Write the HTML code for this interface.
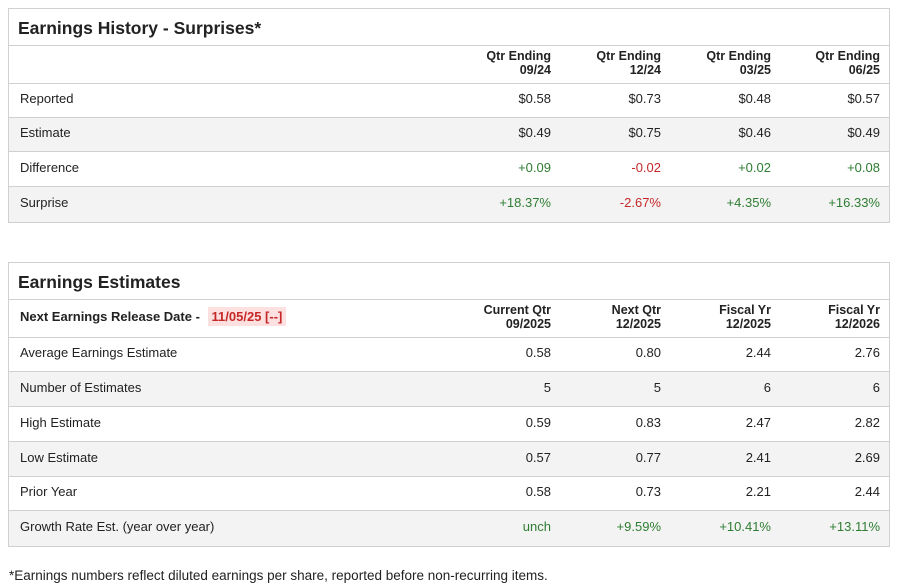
<!DOCTYPE html>
<html><head><meta charset="utf-8"><style>
body{margin:0;width:902px;height:587px;background:#fff;font-family:"Liberation Sans",sans-serif;color:#222;position:relative;overflow:hidden}
.panel{position:absolute;left:8px;width:880px;border:1px solid #d0d0d0;background:#fff}
.title{position:absolute;left:0;right:0;top:0;border-bottom:1px solid #d0d0d0;font-weight:bold;font-size:17.5px;padding-left:9px;box-sizing:border-box}
.row{position:absolute;left:0;right:0;border-bottom:1px solid #d0d0d0;box-sizing:border-box;font-size:13px}
.row>span{top:-2px}
.row.g{background:#f3f3f3}
.lbl{position:absolute;left:11px}
.c{position:absolute;text-align:right;width:110px}
.hd{font-weight:bold;line-height:14px;font-size:12.5px}
.pos{color:#2e7d32}.neg{color:#c62828}
.date{background:#fde0e0;color:#c62828;padding:2px 4px;margin-left:4px}
</style></head><body>
<div class="panel" style="top:8px;height:213px">
 <div class="title" style="height:37px;line-height:38px">Earnings History - Surprises*</div>
 <div class="row hd" style="top:37px;height:38px">
  <div class="c" style="right:338px;top:3px">Qtr Ending<br>09/24</div>
  <div class="c" style="right:228px;top:3px">Qtr Ending<br>12/24</div>
  <div class="c" style="right:118px;top:3px">Qtr Ending<br>03/25</div>
  <div class="c" style="right:9px;top:3px">Qtr Ending<br>06/25</div>
 </div>
 <div class="row" style="top:75px;height:34px;line-height:34px"><span class="lbl">Reported</span>
  <span class="c" style="right:338px">$0.58</span><span class="c" style="right:228px">$0.73</span><span class="c" style="right:118px">$0.48</span><span class="c" style="right:9px">$0.57</span></div>
 <div class="row g" style="top:109px;height:34px;line-height:34px"><span class="lbl">Estimate</span>
  <span class="c" style="right:338px">$0.49</span><span class="c" style="right:228px">$0.75</span><span class="c" style="right:118px">$0.46</span><span class="c" style="right:9px">$0.49</span></div>
 <div class="row" style="top:143px;height:35px;line-height:35px"><span class="lbl">Difference</span>
  <span class="c pos" style="right:338px">+0.09</span><span class="c neg" style="right:228px">-0.02</span><span class="c pos" style="right:118px">+0.02</span><span class="c pos" style="right:9px">+0.08</span></div>
 <div class="row g" style="top:178px;height:35px;line-height:35px;border-bottom:none"><span class="lbl">Surprise</span>
  <span class="c pos" style="right:338px">+18.37%</span><span class="c neg" style="right:228px">-2.67%</span><span class="c pos" style="right:118px">+4.35%</span><span class="c pos" style="right:9px">+16.33%</span></div>
</div>

<div class="panel" style="top:262px;height:283px">
 <div class="title" style="height:37px;line-height:38px">Earnings Estimates</div>
 <div class="row hd" style="top:37px;height:38px">
  <span class="lbl" style="top:10px;font-size:13px">Next Earnings Release Date - <span class="date">11/05/25 [--]</span></span>
  <div class="c" style="right:338px;top:3px">Current Qtr<br>09/2025</div>
  <div class="c" style="right:228px;top:3px">Next Qtr<br>12/2025</div>
  <div class="c" style="right:118px;top:3px">Fiscal Yr<br>12/2025</div>
  <div class="c" style="right:9px;top:3px">Fiscal Yr<br>12/2026</div>
 </div>
 <div class="row" style="top:75px;height:34px;line-height:34px"><span class="lbl">Average Earnings Estimate</span>
  <span class="c" style="right:338px">0.58</span><span class="c" style="right:228px">0.80</span><span class="c" style="right:118px">2.44</span><span class="c" style="right:9px">2.76</span></div>
 <div class="row g" style="top:109px;height:35px;line-height:35px"><span class="lbl">Number of Estimates</span>
  <span class="c" style="right:338px">5</span><span class="c" style="right:228px">5</span><span class="c" style="right:118px">6</span><span class="c" style="right:9px">6</span></div>
 <div class="row" style="top:144px;height:35px;line-height:35px"><span class="lbl">High Estimate</span>
  <span class="c" style="right:338px">0.59</span><span class="c" style="right:228px">0.83</span><span class="c" style="right:118px">2.47</span><span class="c" style="right:9px">2.82</span></div>
 <div class="row g" style="top:179px;height:35px;line-height:35px"><span class="lbl">Low Estimate</span>
  <span class="c" style="right:338px">0.57</span><span class="c" style="right:228px">0.77</span><span class="c" style="right:118px">2.41</span><span class="c" style="right:9px">2.69</span></div>
 <div class="row" style="top:214px;height:34px;line-height:34px"><span class="lbl">Prior Year</span>
  <span class="c" style="right:338px">0.58</span><span class="c" style="right:228px">0.73</span><span class="c" style="right:118px">2.21</span><span class="c" style="right:9px">2.44</span></div>
 <div class="row g" style="top:248px;height:35px;line-height:35px;border-bottom:none"><span class="lbl">Growth Rate Est. (year over year)</span>
  <span class="c pos" style="right:338px">unch</span><span class="c pos" style="right:228px">+9.59%</span><span class="c pos" style="right:118px">+10.41%</span><span class="c pos" style="right:9px">+13.11%</span></div>
</div>
<div style="position:absolute;left:9px;top:568px;font-size:13.5px">*Earnings numbers reflect diluted earnings per share, reported before non-recurring items.</div>
</body></html>
